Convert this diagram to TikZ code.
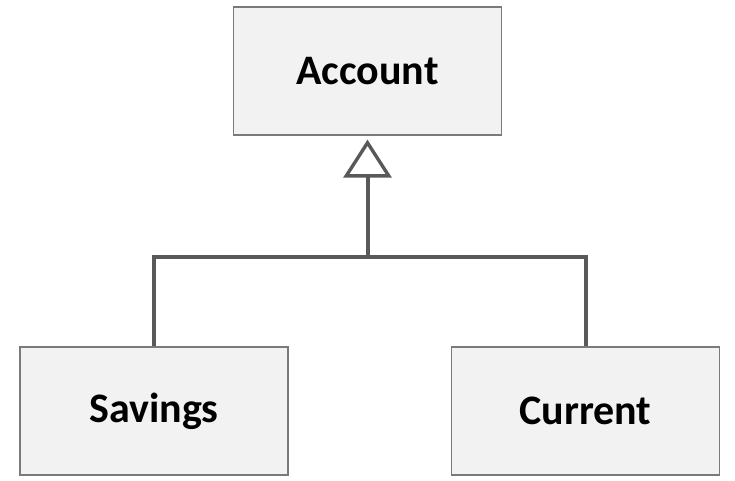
\documentclass[tikz,border=0pt]{standalone}
\usepackage{fontspec}
\setmainfont{Carlito}
\usetikzlibrary{arrows.meta}
\definecolor{boxfill}{HTML}{F2F2F2}
\definecolor{boxline}{HTML}{7A7A7A}
\definecolor{conn}{HTML}{595959}
\tikzset{
  classbox/.style={draw=boxline, line width=1.2pt, fill=boxfill, minimum width=268pt, minimum height=128pt, inner sep=0pt, font=\fontsize{42}{50}\selectfont\bfseries},
  connline/.style={draw=conn, line width=4pt},
  inherit/.style={connline, -{Triangle[open, length=38pt, width=48pt, line width=3.4pt]}, shorten >=4pt}
}
\begin{document}
\begin{tikzpicture}[x=1pt,y=-1pt]
\useasboundingbox (0,0) rectangle (735,480);
\node[classbox] (acc) at (367.5,71) {Account};
\node[classbox] (sav) at (154,411) {Savings};
\node[classbox] (cur) at (585.5,411) {Current};
\coordinate (j) at (367.5,257);
\draw[connline, line join=miter] (sav.north) |- (j) -| (cur.north);
\draw[inherit] (j) -- (acc.south);
\end{tikzpicture}
\end{document}
